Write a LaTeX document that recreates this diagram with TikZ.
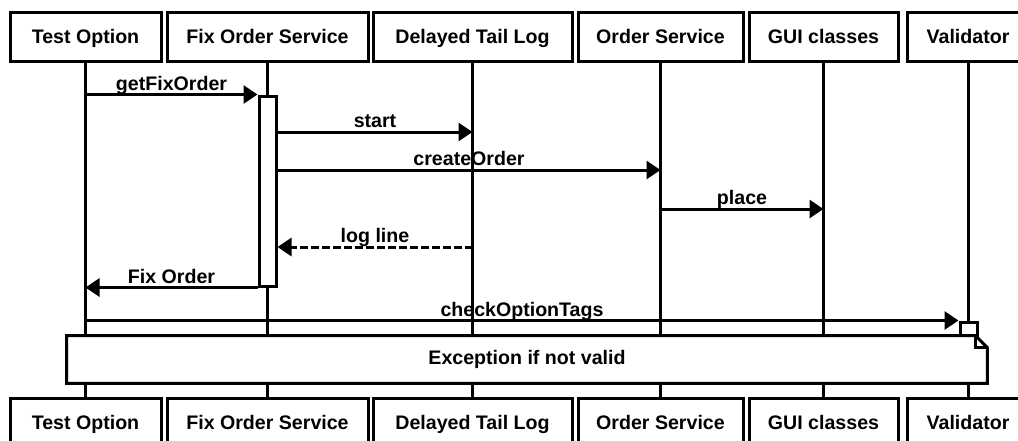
\documentclass[tikz,border=0pt]{standalone}
\usepackage{fontspec}
\setmainfont{Liberation Sans}
\usetikzlibrary{arrows.meta}

\tikzset{
  lblfont/.style={font=\bfseries\fontsize{9.8}{12}\selectfont},
  obj/.style={draw, line width=1.5pt, fill=white, minimum height=24.5pt, inner sep=0pt,
    text height=1.6ex, text depth=.3ex, lblfont},
  life/.style={line width=1.5pt},
  act/.style={draw, line width=1.5pt, fill=white, minimum width=8.5pt, inner sep=0pt},
  msg/.style={line width=1.5pt, -{Triangle[length=7pt,width=9pt]}},
  ret/.style={msg, dash pattern=on 4pt off 1.5pt},
  lbl/.style={lblfont, inner sep=1.5pt, text depth=0pt, above}
}

\begin{document}
\begin{tikzpicture}[x=0.5pt, y=-0.5pt]
  \useasboundingbox (0,0) rectangle (1018,440);

  %% objects, top row and bottom row
  \foreach \n/\x/\w/\t in {test/85.5/75.5/Test Option,
                           fix/267.5/100.5/Fix Order Service,
                           tail/472.5/99.5/Delayed Tail Log,
                           order/660.5/82.5/Order Service,
                           gui/823.5/74.5/GUI classes,
                           valid/968/61/Validator}{
    \node[obj, minimum width=\w pt] (top-\n) at (\x,36.5) {\t};
    \node[obj, minimum width=\w pt] (bot-\n) at (\x,422.5) {\t};
  }

  %% lifelines
  \foreach \n in {test,fix,tail,order,gui,valid}
    \draw[life] (top-\n) -- (bot-\n);

  %% activations
  \node[act, minimum height=95pt] (actFix) at (267.5,191) {};
  \node[act, minimum height=12pt] (actVal) at (968.5,334) {};

  %% message rows
  \coordinate (yStart) at (0,132);
  \coordinate (yCreate) at (0,170);
  \coordinate (yPlace) at (0,209);
  \coordinate (yLog) at (0,247);

  \draw[msg] (top-test |- actFix.north) -- (actFix.north west)
    node[lbl, midway] {getFixOrder};
  \draw[msg] (actFix.east |- yStart) -- (top-tail |- yStart)
    node[lbl, midway] {start};
  \draw[msg] (actFix.east |- yCreate) -- (top-order |- yCreate)
    node[lbl, midway] {createOrder};
  \draw[msg] (top-order |- yPlace) -- (top-gui |- yPlace)
    node[lbl, midway] {place};
  \draw[ret] (top-tail |- yLog) -- (actFix.east |- yLog)
    node[lbl, midway] {log line};
  \draw[msg] (actFix.south west) -- (top-test |- actFix.south)
    node[lbl, midway] {Fix Order};
  \draw[msg] (top-test |- actVal.north) -- (actVal.north west)
    node[lbl, midway] {checkOptionTags};

  %% note with folded corner
  \node[minimum width=460pt, minimum height=23.5pt, inner sep=0pt] (note) at (527,359.5) {};
  \draw[line width=1.5pt, fill=white] (note.north west) -- ([xshift=-6pt]note.north east)
    -- ([yshift=-6pt]note.north east) -- (note.south east) -- (note.south west) -- cycle;
  \draw[line width=1.2pt] ([xshift=-6pt]note.north east) -- ([xshift=-6pt,yshift=-6pt]note.north east)
    -- ([yshift=-6pt]note.north east);
  \node[lblfont] at (note) {Exception if not valid};
\end{tikzpicture}
\end{document}
